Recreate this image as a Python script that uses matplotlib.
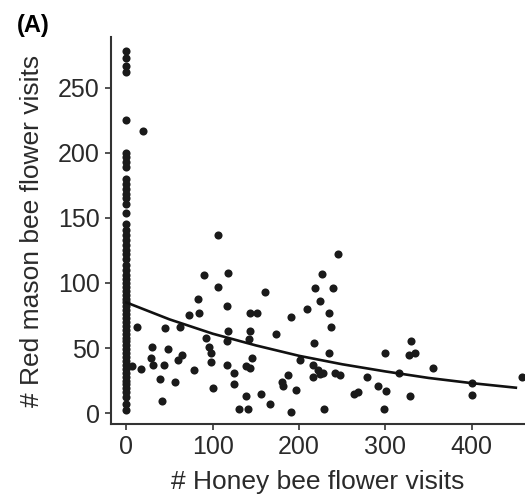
import matplotlib
matplotlib.use("Agg")

import matplotlib.pyplot as plt

plt.rcParams['font.family'] = ['Liberation Sans', 'DejaVu Sans']

# ---- data ----
# sites with no honey bee visits (x = 0 column)
zero_x = [0] * 60
zero_y = [278, 273, 267, 262, 225,
          200, 197, 193, 189, 180, 176, 172, 168, 165, 161, 154,
          145, 141, 137, 133, 129, 125, 122, 118, 114, 110, 106, 103,
          100, 97, 94, 91, 88, 85, 82, 79, 76, 73, 70, 67, 64, 61,
          58, 55, 52, 49, 46, 43, 40, 37, 34, 31, 28, 25, 22, 19,
          16, 12, 7, 2]

# the rest of the sites
honey_x = [19, 106, 90, 118, 106, 83, 116, 73, 84, 143, 151,
           12, 45, 62, 118, 143, 92, 116, 142, 30, 48, 96, 98,
           64, 60, 29, 31, 6, 17, 44, 98, 78, 116, 139, 143, 145,
           125, 39, 56, 125, 100, 139, 41, 131, 141, 156, 166, 191,
           229, 245, 227, 219, 239, 224, 160, 209, 235, 191, 237,
           173, 217, 235, 201, 216, 222, 228, 216, 224, 242, 247,
           279, 187, 180, 181, 197, 264, 268, 291, 301, 299, 330,
           327, 334, 355, 458, 400, 328, 298, 316, 400]
mason_y = [217, 137, 106, 108, 97, 88, 82, 75, 77, 77, 77,
           66, 65, 66, 63, 63, 58, 55, 57, 51, 49, 51, 46,
           45, 41, 42, 37, 36, 34, 37, 39, 33, 37, 36, 35, 42,
           31, 26, 24, 22, 19, 13, 9, 3, 3, 15, 7, 1,
           3, 122, 107, 96, 96, 86, 93, 80, 77, 74, 66,
           61, 54, 46, 41, 37, 33, 31, 28, 30, 31, 29,
           28, 29, 24, 21, 18, 15, 16, 21, 17, 46, 55,
           45, 46, 35, 28, 14, 13, 3, 31, 23]

# fitted decline curve
fit_x = [0, 50, 100, 150, 200, 250, 300, 350, 400, 451]
fit_y = [85, 72, 61, 52, 44, 37.5, 32, 27, 23, 19.5]

# ---- plot ----
fig = plt.figure(figsize=(5.25, 4.99), dpi=100)
ax = fig.add_axes([0.211, 0.150, 0.789, 0.776])

dot = '#1a1a1a'
ax.scatter(zero_x, zero_y, s=34, color=dot, linewidths=0, zorder=3)
ax.scatter(honey_x, mason_y, s=34, color=dot, linewidths=0, zorder=3)
ax.plot(fit_x, fit_y, color='#111111', lw=1.9, zorder=4)

ax.set_xlim(-18, 461.6)
ax.set_ylim(-8.5, 289)
ax.set_xticks([0, 100, 200, 300, 400])
ax.set_yticks([0, 50, 100, 150, 200, 250])

for side in ['top', 'right']:
    ax.spines[side].set_visible(False)
for side in ['left', 'bottom']:
    ax.spines[side].set_color('#333333')
    ax.spines[side].set_linewidth(1.5)

ax.tick_params(direction='out', length=4, width=1.2, colors='#333333',
               labelsize=18, labelcolor='#2a2a2a', pad=4)

ax.set_xlabel('# Honey bee flower visits', fontsize=19, color='#2a2a2a', labelpad=8)
ax.set_ylabel('# Red mason bee flower visits', fontsize=19, color='#2a2a2a', labelpad=10)

fig.text(0.033, 0.948, '(A)', fontsize=17, fontweight='bold', va='center', ha='left')

plt.savefig('out.png', dpi=100)
plt.close()
